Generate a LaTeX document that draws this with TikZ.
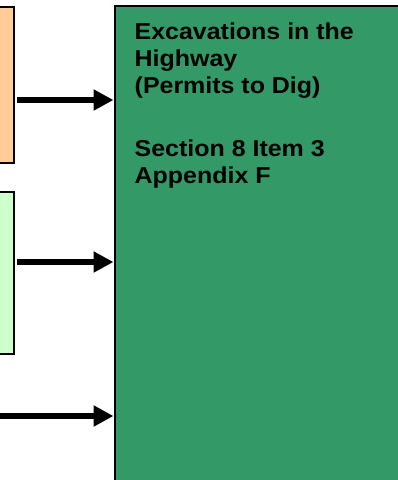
\documentclass[tikz,border=0pt]{standalone}
\usepackage{fontspec}
\setmainfont{Liberation Sans}
\newfontfamily\lblfont{Liberation Sans}[FakeStretch=1.085]
\usetikzlibrary{arrows.meta,shadows}
\definecolor{orangebox}{HTML}{FFCC99}
\definecolor{paleg}{HTML}{CCFFCC}
\definecolor{seag}{HTML}{339966}
\tikzset{
  box/.style={draw=black, line width=1.6pt, inner sep=0pt, outer sep=0pt,
    drop shadow={shadow xshift=1pt, shadow yshift=-1.2pt, fill=gray!70, opacity=1}},
  fatarrow/.style={line width=6.5pt, -{Triangle[length=20pt,width=20pt]}},
  label/.style={font=\lblfont\fontsize{23pt}{26.8pt}\selectfont\bfseries, align=left, inner sep=0pt, anchor=north west}
}
\begin{document}
\begin{tikzpicture}[x=1pt,y=-1pt]
\useasboundingbox (0,0) rectangle (398,480);
\begin{scope}
\clip (0,0) rectangle (398,480);
\node[box, fill=orangebox, minimum width=30pt, minimum height=156pt, anchor=north east] (src1) at (14,7) {};
\node[box, fill=paleg, minimum width=30pt, minimum height=162pt, anchor=north east] (src2) at (14,192) {};
\node[box, fill=seag, minimum width=300pt, minimum height=490pt, anchor=north west] (main) at (115,6) {};
\end{scope}
\coordinate (a1s) at ([xshift=3pt]src1.east |- 0,100);
\coordinate (a1e) at ([xshift=-1.5pt]main.west |- 0,100);
\coordinate (a2s) at ([xshift=3pt]src2.east |- 0,262);
\coordinate (a2e) at ([xshift=-1.5pt]main.west |- 0,262);
\coordinate (a3s) at (0,416);
\coordinate (a3e) at ([xshift=-1.5pt]main.west |- 0,416);
\draw[fatarrow] (a1s) -- (a1e);
\draw[fatarrow] (a2s) -- (a2e);
\draw[fatarrow] (a3s) -- (a3e);
\node[label] (txt) at (134.5,22.8) {Excavations in the\\Highway\\(Permits to Dig)\\[36.6pt]Section 8 Item 3\\Appendix F};
\end{tikzpicture}
\end{document}
